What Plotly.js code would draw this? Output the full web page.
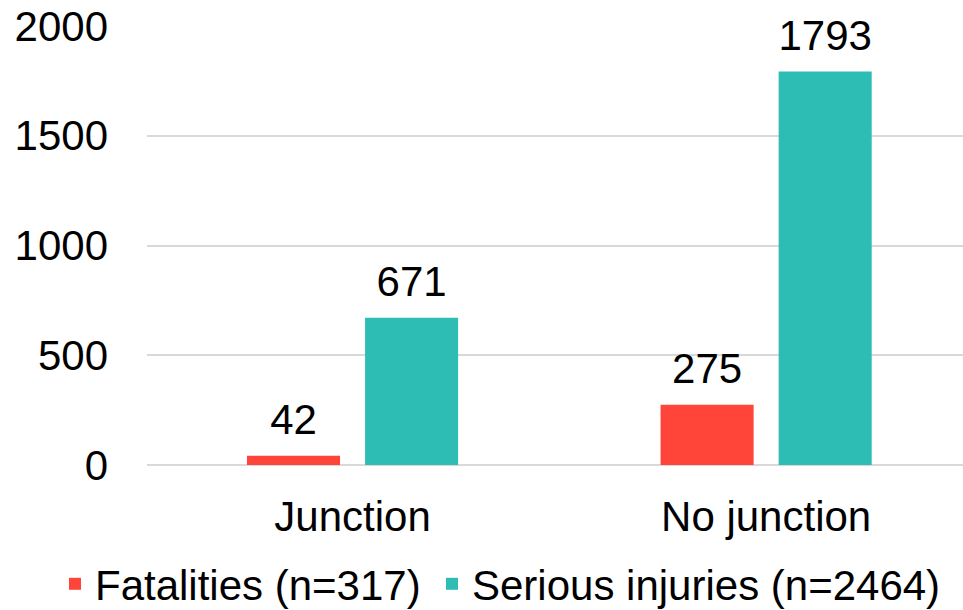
<!DOCTYPE html>
<html>
<head>
<meta charset="utf-8">
<script src="https://cdn.plot.ly/plotly-3.0.1.min.js"></script>
<style>html,body{margin:0;padding:0;background:#fff}#chart{width:963px;height:610px}</style>
</head>
<body>
<div id="chart"></div>
<script>
const categories = ["Junction", "No junction"];
const fatalities = [42, 275];
const seriousInjuries = [671, 1793];
const seriesNames = ["Fatalities (n=317)", "Serious injuries (n=2464)"];
const yTicks = [0, 500, 1000, 1500, 2000];

const FONT = "Liberation Sans, Arial, sans-serif";
function labelTrace(values, group) {
  return {type: "scatter", mode: "markers+text", x: categories, y: values,
    offsetgroup: group, showlegend: false, cliponaxis: false, hoverinfo: "skip",
    marker: {size: 16, color: "rgba(0,0,0,0)"},
    text: values.map(String), textposition: "top center",
    textfont: {size: 42, color: "#000", family: FONT}};
}
const traces = [
  {type: "bar", name: seriesNames[0], x: categories, y: fatalities, legend: "legend",
   offsetgroup: "f", marker: {color: "#FF4539"}},
  {type: "bar", name: seriesNames[1], x: categories, y: seriousInjuries, legend: "legend2",
   offsetgroup: "s", marker: {color: "#2EBDB4"}},
  labelTrace(fatalities, "f"),
  labelTrace(seriousInjuries, "s")
];
const legendBase = {orientation: "h", xref: "container", yref: "container", xanchor: "left",
  y: 26 / 610, yanchor: "middle", bgcolor: "rgba(0,0,0,0)",
  font: {size: 42, family: FONT, color: "#000"}};
const layout = {
  width: 963, height: 610,
  margin: {l: 147, r: 0, t: 26, b: 145, autoexpand: false},
  paper_bgcolor: "#fff", plot_bgcolor: "#fff",
  font: {family: FONT, size: 42, color: "#000"},
  barmode: "group", bargap: 0.429, bargroupgap: 0.212,
  scattermode: "group", scattergap: 0.429,
  showlegend: true,
  legend: Object.assign({}, legendBase, {x: 55 / 963}),
  legend2: Object.assign({}, legendBase, {x: 432 / 963}),
  xaxis: {range: [-0.497, 1.476], showgrid: false, zeroline: false, showline: false,
          ticks: "", tickfont: {size: 42}, ticklabelstandoff: 23},
  yaxis: {range: [0, 2000], tickvals: yTicks, ticktext: yTicks.map(String),
          showgrid: true, gridcolor: "#D9D9D9", gridwidth: 2, zeroline: true,
          zerolinecolor: "#D9D9D9", zerolinewidth: 2, showline: false, ticks: "",
          tickfont: {size: 42}, ticklabelstandoff: 38}
};
Plotly.newPlot("chart", traces, layout, {displayModeBar: false, staticPlot: true});
</script>
</body>
</html>
